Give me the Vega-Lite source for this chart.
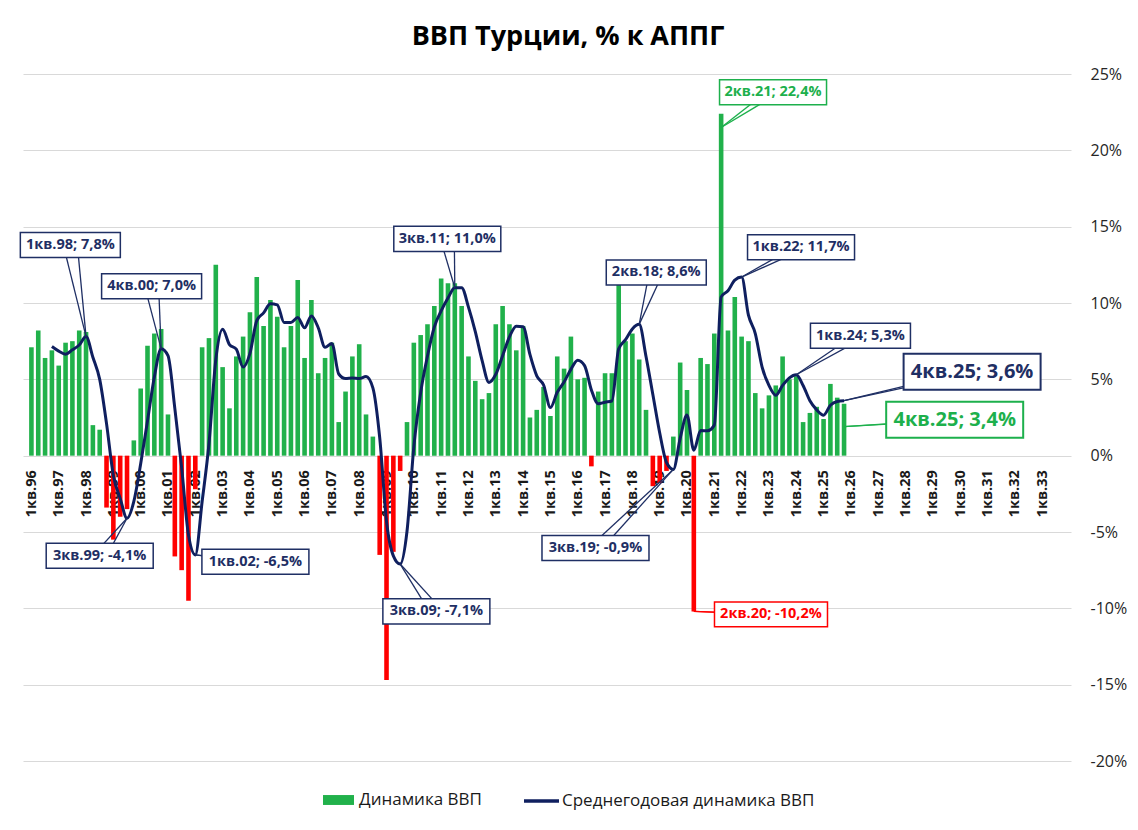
{
 "$schema": "https://vega.github.io/schema/vega-lite/v6.json",
 "width": 1048,
 "height": 687,
 "autosize": {"type": "none"},
 "padding": {"left": 23, "top": 74, "right": 67, "bottom": 69},
 "background": "white",
 "config": {"view": {"stroke": null}, "font": "Open Sans", "axis": {"labelOverlap": false}, "axisX": {"labelOverlap": false}},
 "title": {"text": "ВВП Турции, % к АППГ", "font": "Open Sans", "fontSize": 27, "fontWeight": "bold", "color": "#000000", "anchor": "middle", "dx": 21, "offset": -6, "baseline": "alphabetic"},
 "datasets": {
  "gdp": [
   {"q":"1кв.96","i":0,"gdp":7.1,"avg":null},
   {"q":"2кв.96","i":1,"gdp":8.2,"avg":null},
   {"q":"3кв.96","i":2,"gdp":6.4,"avg":null},
   {"q":"4кв.96","i":3,"gdp":6.9,"avg":7.15},
   {"q":"1кв.97","i":4,"gdp":5.9,"avg":6.85},
   {"q":"2кв.97","i":5,"gdp":7.4,"avg":6.65},
   {"q":"3кв.97","i":6,"gdp":7.5,"avg":6.93},
   {"q":"4кв.97","i":7,"gdp":8.2,"avg":7.25},
   {"q":"1кв.98","i":8,"gdp":8.1,"avg":7.8},
   {"q":"2кв.98","i":9,"gdp":2.0,"avg":6.45},
   {"q":"3кв.98","i":10,"gdp":1.7,"avg":5.0},
   {"q":"4кв.98","i":11,"gdp":-3.4,"avg":2.1},
   {"q":"1кв.99","i":12,"gdp":-5.5,"avg":-1.3},
   {"q":"2кв.99","i":13,"gdp":-4.0,"avg":-2.8},
   {"q":"3кв.99","i":14,"gdp":-3.5,"avg":-4.1},
   {"q":"4кв.99","i":15,"gdp":1.0,"avg":-3.0},
   {"q":"1кв.00","i":16,"gdp":4.4,"avg":-0.53},
   {"q":"2кв.00","i":17,"gdp":7.2,"avg":2.28},
   {"q":"3кв.00","i":18,"gdp":8.0,"avg":5.15},
   {"q":"4кв.00","i":19,"gdp":8.3,"avg":7.0},
   {"q":"1кв.01","i":20,"gdp":2.7,"avg":6.55},
   {"q":"2кв.01","i":21,"gdp":-6.6,"avg":3.1},
   {"q":"3кв.01","i":22,"gdp":-7.5,"avg":-0.78},
   {"q":"4кв.01","i":23,"gdp":-9.5,"avg":-5.2},
   {"q":"1кв.02","i":24,"gdp":-2.2,"avg":-6.5},
   {"q":"2кв.02","i":25,"gdp":7.1,"avg":-3.0},
   {"q":"3кв.02","i":26,"gdp":7.7,"avg":0.78},
   {"q":"4кв.02","i":27,"gdp":12.5,"avg":6.28},
   {"q":"1кв.03","i":28,"gdp":5.8,"avg":8.28},
   {"q":"2кв.03","i":29,"gdp":3.1,"avg":7.28},
   {"q":"3кв.03","i":30,"gdp":6.5,"avg":6.98},
   {"q":"4кв.03","i":31,"gdp":7.8,"avg":5.8},
   {"q":"1кв.04","i":32,"gdp":9.4,"avg":6.7},
   {"q":"2кв.04","i":33,"gdp":11.7,"avg":8.85},
   {"q":"3кв.04","i":34,"gdp":8.5,"avg":9.35},
   {"q":"4кв.04","i":35,"gdp":10.2,"avg":9.95},
   {"q":"1кв.05","i":36,"gdp":9.1,"avg":9.88},
   {"q":"2кв.05","i":37,"gdp":7.1,"avg":8.73},
   {"q":"3кв.05","i":38,"gdp":8.5,"avg":8.73},
   {"q":"4кв.05","i":39,"gdp":11.5,"avg":9.05},
   {"q":"1кв.06","i":40,"gdp":6.4,"avg":8.38},
   {"q":"2кв.06","i":41,"gdp":10.2,"avg":9.15},
   {"q":"3кв.06","i":42,"gdp":5.4,"avg":8.38},
   {"q":"4кв.06","i":43,"gdp":6.4,"avg":7.1},
   {"q":"1кв.07","i":44,"gdp":7.4,"avg":7.35},
   {"q":"2кв.07","i":45,"gdp":2.2,"avg":5.35},
   {"q":"3кв.07","i":46,"gdp":4.2,"avg":5.05},
   {"q":"4кв.07","i":47,"gdp":6.5,"avg":5.08},
   {"q":"1кв.08","i":48,"gdp":7.3,"avg":5.05},
   {"q":"2кв.08","i":49,"gdp":2.7,"avg":5.18},
   {"q":"3кв.08","i":50,"gdp":1.25,"avg":4.44},
   {"q":"4кв.08","i":51,"gdp":-6.5,"avg":1.19},
   {"q":"1кв.09","i":52,"gdp":-14.7,"avg":-4.31},
   {"q":"2кв.09","i":53,"gdp":-6.3,"avg":-6.56},
   {"q":"3кв.09","i":54,"gdp":-1.0,"avg":-7.1},
   {"q":"4кв.09","i":55,"gdp":2.2,"avg":-4.95},
   {"q":"1кв.10","i":56,"gdp":7.4,"avg":0.58},
   {"q":"2кв.10","i":57,"gdp":7.9,"avg":4.13},
   {"q":"3кв.10","i":58,"gdp":8.6,"avg":6.53},
   {"q":"4кв.10","i":59,"gdp":9.8,"avg":8.43},
   {"q":"1кв.11","i":60,"gdp":11.6,"avg":9.48},
   {"q":"2кв.11","i":61,"gdp":11.3,"avg":10.33},
   {"q":"3кв.11","i":62,"gdp":11.3,"avg":11.0},
   {"q":"4кв.11","i":63,"gdp":9.8,"avg":11.0},
   {"q":"1кв.12","i":64,"gdp":6.5,"avg":9.73},
   {"q":"2кв.12","i":65,"gdp":4.9,"avg":8.13},
   {"q":"3кв.12","i":66,"gdp":3.7,"avg":6.23},
   {"q":"4кв.12","i":67,"gdp":4.1,"avg":4.8},
   {"q":"1кв.13","i":68,"gdp":8.6,"avg":5.33},
   {"q":"2кв.13","i":69,"gdp":9.8,"avg":6.55},
   {"q":"3кв.13","i":70,"gdp":8.6,"avg":7.78},
   {"q":"4кв.13","i":71,"gdp":6.9,"avg":8.48},
   {"q":"1кв.14","i":72,"gdp":8.5,"avg":8.45},
   {"q":"2кв.14","i":73,"gdp":2.5,"avg":6.63},
   {"q":"3кв.14","i":74,"gdp":3.0,"avg":5.23},
   {"q":"4кв.14","i":75,"gdp":4.5,"avg":4.63},
   {"q":"1кв.15","i":76,"gdp":2.6,"avg":3.15},
   {"q":"2кв.15","i":77,"gdp":6.5,"avg":4.15},
   {"q":"3кв.15","i":78,"gdp":5.7,"avg":4.83},
   {"q":"4кв.15","i":79,"gdp":7.8,"avg":5.65},
   {"q":"1кв.16","i":80,"gdp":5.0,"avg":6.25},
   {"q":"2кв.16","i":81,"gdp":5.1,"avg":5.9},
   {"q":"3кв.16","i":82,"gdp":-0.7,"avg":4.3},
   {"q":"4кв.16","i":83,"gdp":4.2,"avg":3.4},
   {"q":"1кв.17","i":84,"gdp":5.4,"avg":3.5},
   {"q":"2кв.17","i":85,"gdp":5.4,"avg":3.58},
   {"q":"3кв.17","i":86,"gdp":11.2,"avg":7.0},
   {"q":"4кв.17","i":87,"gdp":7.5,"avg":7.6},
   {"q":"1кв.18","i":88,"gdp":8.0,"avg":8.3},
   {"q":"2кв.18","i":89,"gdp":6.3,"avg":8.6},
   {"q":"3кв.18","i":90,"gdp":3.0,"avg":6.5},
   {"q":"4кв.18","i":91,"gdp":-2.0,"avg":4.0},
   {"q":"1кв.19","i":92,"gdp":-1.8,"avg":1.5},
   {"q":"2кв.19","i":93,"gdp":-1.0,"avg":-0.45},
   {"q":"3кв.19","i":94,"gdp":1.25,"avg":-0.9},
   {"q":"4кв.19","i":95,"gdp":6.1,"avg":1.14},
   {"q":"1кв.20","i":96,"gdp":4.3,"avg":2.66},
   {"q":"2кв.20","i":97,"gdp":-10.2,"avg":0.36},
   {"q":"3кв.20","i":98,"gdp":6.4,"avg":1.65},
   {"q":"4кв.20","i":99,"gdp":6.0,"avg":1.63},
   {"q":"1кв.21","i":100,"gdp":8.0,"avg":2.0},
   {"q":"2кв.21","i":101,"gdp":22.4,"avg":10.4},
   {"q":"3кв.21","i":102,"gdp":8.2,"avg":10.8},
   {"q":"4кв.21","i":103,"gdp":10.4,"avg":11.5},
   {"q":"1кв.22","i":104,"gdp":7.8,"avg":11.7},
   {"q":"2кв.22","i":105,"gdp":7.5,"avg":9.2},
   {"q":"3кв.22","i":106,"gdp":4.1,"avg":8.0},
   {"q":"4кв.22","i":107,"gdp":3.1,"avg":5.8},
   {"q":"1кв.23","i":108,"gdp":3.95,"avg":4.6},
   {"q":"2кв.23","i":109,"gdp":4.6,"avg":3.95},
   {"q":"3кв.23","i":110,"gdp":6.5,"avg":4.6},
   {"q":"4кв.23","i":111,"gdp":5.0,"avg":5.1},
   {"q":"1кв.24","i":112,"gdp":5.2,"avg":5.3},
   {"q":"2кв.24","i":113,"gdp":2.2,"avg":4.6},
   {"q":"3кв.24","i":114,"gdp":2.8,"avg":3.6},
   {"q":"4кв.24","i":115,"gdp":3.2,"avg":3.0},
   {"q":"1кв.25","i":116,"gdp":2.4,"avg":2.65},
   {"q":"2кв.25","i":117,"gdp":4.7,"avg":3.3},
   {"q":"3кв.25","i":118,"gdp":3.8,"avg":3.55},
   {"q":"4кв.25","i":119,"gdp":3.4,"avg":3.6}
  ],
  "ann": [
   {"label":"1кв.98; 7,8%","series":"line","tq":8,"tv":7.8,"lx":5.7,"ly":13.8,"latest":false},
   {"label":"4кв.00; 7,0%","series":"line","tq":19,"tv":7.0,"lx":17.6,"ly":11.1,"latest":false},
   {"label":"3кв.99; -4,1%","series":"line","tq":14,"tv":-4.1,"lx":10.0,"ly":-6.55,"latest":false},
   {"label":"1кв.02; -6,5%","series":"line","tq":24,"tv":-6.5,"lx":32.8,"ly":-6.95,"latest":false},
   {"label":"3кв.09; -7,1%","series":"line","tq":54,"tv":-7.1,"lx":59.3,"ly":-10.2,"latest":false},
   {"label":"3кв.11; 11,0%","series":"line","tq":62,"tv":11.0,"lx":60.9,"ly":14.2,"latest":false},
   {"label":"2кв.18; 8,6%","series":"line","tq":89,"tv":8.6,"lx":91.5,"ly":12.0,"latest":false},
   {"label":"3кв.19; -0,9%","series":"line","tq":94,"tv":-0.9,"lx":82.6,"ly":-6.05,"latest":false},
   {"label":"2кв.20; -10,2%","series":"bar","tq":97,"tv":-10.2,"lx":108.3,"ly":-10.4,"latest":false},
   {"label":"2кв.21; 22,4%","series":"bar","tq":101,"tv":21.5,"lx":108.6,"ly":23.8,"latest":false},
   {"label":"1кв.22; 11,7%","series":"line","tq":104,"tv":11.7,"lx":112.7,"ly":13.65,"latest":false},
   {"label":"1кв.24; 5,3%","series":"line","tq":112,"tv":5.3,"lx":121.4,"ly":7.85,"latest":false},
   {"label":"4кв.25; 3,6%","series":"line","tq":119,"tv":3.6,"lx":137.75,"ly":5.5,"latest":true},
   {"label":"4кв.25; 3,4%","series":"bar","tq":119,"tv":1.9,"lx":135.2,"ly":2.35,"latest":true}
  ]
 },
 "layer": [
  {
   "data": {"name": "gdp"},
   "mark": {"type": "bar", "width": 4.6},
   "encoding": {
    "x": {"field": "i", "type": "quantitative", "scale": {"domain": [-0.5, 151.5], "nice": false, "zero": false},
      "axis": {"values": [0,4,8,12,16,20,24,28,32,36,40,44,48,52,56,60,64,68,72,76,80,84,88,92,96,100,104,108,112,116,120,124,128,132,136,140,144,148],
        "tickCount": 200,
        "labelExpr": "'1кв.' + (((96 + datum.value / 4) % 100) < 10 ? '0' : '') + ((96 + datum.value / 4) % 100)",
        "labelAngle": -90, "labelAlign": "right", "labelBaseline": "middle", "offset": -305.3,
        "domain": false, "ticks": false, "grid": false, "labelPadding": 14,
        "labelFont": "Open Sans", "labelFontSize": 14.5, "labelFontWeight": "bold", "labelColor": "#1a1a1a",
        "title": null, "labelOverlap": false, "labelFlush": false, "labelBound": false}},
    "y": {"field": "gdp", "type": "quantitative", "scale": {"domain": [-20, 25], "nice": false},
      "axis": {"orient": "right", "values": [-20,-15,-10,-5,0,5,10,15,20,25], "labelExpr": "datum.value + '%'",
        "domain": false, "ticks": false, "grid": true, "gridColor": "#D9D9D9", "gridWidth": 1,
        "labelPadding": 19, "labelAlign": "left", "labelFont": "Open Sans", "labelFontSize": 16, "labelColor": "#262626", "title": null}},
    "color": {"condition": {"test": "datum.gdp < 0", "value": "#FF0000"}, "datum": "Динамика ВВП",
      "scale": {"domain": ["Динамика ВВП"], "range": ["#21B14B"]},
      "legend": {"orient": "none", "legendX": 299, "legendY": 709.5, "title": null, "symbolType": "M-1,-0.32H1V0.32H-1Z", "symbolSize": 961, "labelFontSize": 17, "labelLimit": 500, "labelColor": "#1a1a1a", "labelFont": "Open Sans", "labelOffset": 4, "padding": 0}}
   }
  },
  {
   "data": {"name": "gdp"},
   "mark": {"type": "line", "strokeWidth": 3, "interpolate": "monotone"},
   "encoding": {
    "x": {"field": "i", "type": "quantitative", "scale": {"domain": [-0.5, 151.5], "nice": false, "zero": false}},
    "y": {"field": "avg", "type": "quantitative", "scale": {"domain": [-20, 25], "nice": false}},
    "stroke": {"datum": "Среднегодовая динамика ВВП", "scale": {"domain": ["Среднегодовая динамика ВВП"], "range": ["#0F1F5F"]},
      "legend": {"orient": "none", "legendX": 499, "legendY": 707.5, "title": null, "symbolType": "stroke", "symbolSize": 1225, "symbolStrokeWidth": 3.5, "labelFontSize": 17, "labelLimit": 500, "labelColor": "#1a1a1a", "labelFont": "Open Sans", "labelOffset": 1, "padding": 0}}
   }
  },
  {
   "data": {"name": "ann"},
   "mark": {"type": "rule", "xOffset": -7, "strokeWidth": 1.3},
   "encoding": {
    "x": {"field": "lx", "type": "quantitative", "scale": {"domain": [-0.5, 151.5], "nice": false, "zero": false}},
    "y": {"field": "ly", "type": "quantitative", "scale": {"domain": [-20, 25], "nice": false}},
    "x2": {"field": "tq"},
    "y2": {"field": "tv"},
    "color": {"condition": [{"test": "datum.series == 'bar' && datum.tv < 0", "value": "#FF0000"}, {"test": "datum.series == 'bar'", "value": "#1DB04C"}], "value": "#1F2F64"}
   }
  },
  {
   "data": {"name": "ann"},
   "mark": {"type": "rule", "xOffset": 7, "strokeWidth": 1.3},
   "encoding": {
    "x": {"field": "lx", "type": "quantitative", "scale": {"domain": [-0.5, 151.5], "nice": false, "zero": false}},
    "y": {"field": "ly", "type": "quantitative", "scale": {"domain": [-20, 25], "nice": false}},
    "x2": {"field": "tq"},
    "y2": {"field": "tv"},
    "color": {"condition": [{"test": "datum.series == 'bar' && datum.tv < 0", "value": "#FF0000"}, {"test": "datum.series == 'bar'", "value": "#1DB04C"}], "value": "#1F2F64"}
   }
  },
  {
   "data": {"name": "ann"},
   "transform": [{"filter": "!datum.latest && length(datum.label) <= 12"}],
   "mark": {"type": "point", "shape": "M-1,-0.25H1V0.25H-1Z", "filled": true, "fill": "white", "fillOpacity": 1, "opacity": 1, "strokeWidth": 1.5, "size": 10000},
   "encoding": {
    "x": {"field": "lx", "type": "quantitative", "scale": {"domain": [-0.5, 151.5], "nice": false, "zero": false}},
    "y": {"field": "ly", "type": "quantitative", "scale": {"domain": [-20, 25], "nice": false}},
    "stroke": {"condition": [{"test": "datum.series == 'bar' && datum.tv < 0", "value": "#FF0000"}, {"test": "datum.series == 'bar'", "value": "#1DB04C"}], "value": "#1F2F64"}
   }
  },
  {
   "data": {"name": "ann"},
   "transform": [{"filter": "!datum.latest && length(datum.label) == 13"}],
   "mark": {"type": "point", "shape": "M-1,-0.234H1V0.234H-1Z", "filled": true, "fill": "white", "fillOpacity": 1, "opacity": 1, "strokeWidth": 1.5, "size": 11449},
   "encoding": {
    "x": {"field": "lx", "type": "quantitative", "scale": {"domain": [-0.5, 151.5], "nice": false, "zero": false}},
    "y": {"field": "ly", "type": "quantitative", "scale": {"domain": [-20, 25], "nice": false}},
    "stroke": {"condition": [{"test": "datum.series == 'bar' && datum.tv < 0", "value": "#FF0000"}, {"test": "datum.series == 'bar'", "value": "#1DB04C"}], "value": "#1F2F64"}
   }
  },
  {
   "data": {"name": "ann"},
   "transform": [{"filter": "!datum.latest && length(datum.label) >= 14"}],
   "mark": {"type": "point", "shape": "M-1,-0.22H1V0.22H-1Z", "filled": true, "fill": "white", "fillOpacity": 1, "opacity": 1, "strokeWidth": 1.5, "size": 12769},
   "encoding": {
    "x": {"field": "lx", "type": "quantitative", "scale": {"domain": [-0.5, 151.5], "nice": false, "zero": false}},
    "y": {"field": "ly", "type": "quantitative", "scale": {"domain": [-20, 25], "nice": false}},
    "stroke": {"condition": [{"test": "datum.series == 'bar' && datum.tv < 0", "value": "#FF0000"}, {"test": "datum.series == 'bar'", "value": "#1DB04C"}], "value": "#1F2F64"}
   }
  },
  {
   "data": {"name": "ann"},
   "transform": [{"filter": "datum.latest"}],
   "mark": {"type": "point", "shape": "M-1,-0.263H1V0.263H-1Z", "filled": true, "fill": "white", "fillOpacity": 1, "opacity": 1, "strokeWidth": 2, "size": 18769},
   "encoding": {
    "x": {"field": "lx", "type": "quantitative", "scale": {"domain": [-0.5, 151.5], "nice": false, "zero": false}},
    "y": {"field": "ly", "type": "quantitative", "scale": {"domain": [-20, 25], "nice": false}},
    "stroke": {"condition": [{"test": "datum.series == 'bar' && datum.tv < 0", "value": "#FF0000"}, {"test": "datum.series == 'bar'", "value": "#1DB04C"}], "value": "#1F2F64"}
   }
  },
  {
   "data": {"name": "ann"},
   "transform": [{"filter": "!datum.latest"}],
   "mark": {"type": "text", "font": "Open Sans", "fontSize": 14.5, "fontWeight": "bold", "align": "center", "baseline": "middle"},
   "encoding": {
    "x": {"field": "lx", "type": "quantitative", "scale": {"domain": [-0.5, 151.5], "nice": false, "zero": false}},
    "y": {"field": "ly", "type": "quantitative", "scale": {"domain": [-20, 25], "nice": false}},
    "text": {"field": "label"},
    "color": {"condition": [{"test": "datum.series == 'bar' && datum.tv < 0", "value": "#FF0000"}, {"test": "datum.series == 'bar'", "value": "#1DB04C"}], "value": "#1F2F64"}
   }
  },
  {
   "data": {"name": "ann"},
   "transform": [{"filter": "datum.latest"}],
   "mark": {"type": "text", "font": "Open Sans", "fontSize": 20, "fontWeight": "bold", "align": "center", "baseline": "middle"},
   "encoding": {
    "x": {"field": "lx", "type": "quantitative", "scale": {"domain": [-0.5, 151.5], "nice": false, "zero": false}},
    "y": {"field": "ly", "type": "quantitative", "scale": {"domain": [-20, 25], "nice": false}},
    "text": {"field": "label"},
    "color": {"condition": [{"test": "datum.series == 'bar' && datum.tv < 0", "value": "#FF0000"}, {"test": "datum.series == 'bar'", "value": "#1DB04C"}], "value": "#1F2F64"}
   }
  }
 ]
}
